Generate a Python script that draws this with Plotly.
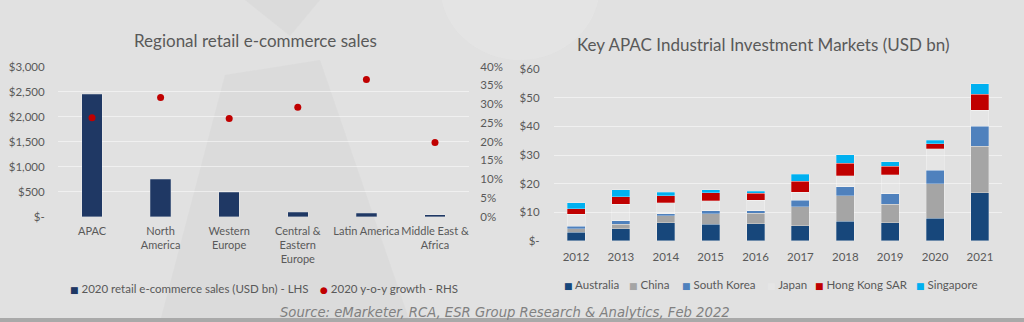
import plotly.graph_objects as go

# ---------------- data ----------------
regions = ["APAC", "North<br>America", "Western<br>Europe", "Central &<br>Eastern<br>Europe",
           "Latin America", "Middle East &<br>Africa"]
sales_2020 = [2450, 750, 490, 90, 70, 35]
growth_2020 = [0.264, 0.318, 0.262, 0.292, 0.366, 0.198]
left_yticks = [0, 500, 1000, 1500, 2000, 2500, 3000]
left_yticklabels = ["$-", "$500", "$1,000", "$1,500", "$2,000", "$2,500", "$3,000"]
right_yticks = [0, 0.05, 0.10, 0.15, 0.20, 0.25, 0.30, 0.35, 0.40]
right_yticklabels = ["0%", "5%", "10%", "15%", "20%", "25%", "30%", "35%", "40%"]

years = ["2012", "2013", "2014", "2015", "2016", "2017", "2018", "2019", "2020", "2021"]
australia = [2.9, 4.2, 6.2, 5.8, 6.0, 5.2, 6.8, 6.3, 7.8, 16.7]
china = [1.3, 1.6, 2.5, 3.6, 3.6, 6.7, 8.9, 6.4, 12.2, 16.3]
south_korea = [0.8, 1.1, 0.7, 1.0, 0.8, 2.3, 3.2, 3.8, 4.7, 7.1]
japan = [4.2, 5.9, 3.8, 3.5, 3.8, 2.8, 3.9, 6.6, 7.5, 5.6]
hong_kong = [2.0, 2.5, 2.5, 2.8, 2.4, 3.9, 4.3, 2.9, 1.7, 5.6]
singapore = [2.0, 2.6, 1.3, 1.2, 0.7, 2.4, 3.0, 1.7, 1.2, 3.7]
inv_yticks = [0, 10, 20, 30, 40, 50, 60]
inv_yticklabels = ["$-", "$10", "$20", "$30", "$40", "$50", "$60"]

series_names = ["Australia", "China", "South Korea", "Japan", "Hong Kong SAR", "Singapore"]
series_values = [australia, china, south_korea, japan, hong_kong, singapore]
series_colors = ["#17477b", "#a5a5a5", "#4f81bd", "rgba(238,238,238,0.32)", "#c00000", "#00b0f0"]

# ---------------- style ----------------
W, H = 1024, 322
FONT = "Lato"
TXT = "#595959"
GRID = "rgba(255,255,255,0.5)"

def px(x):
    return x / W

def py(y):
    return 1 - y / H

fig = go.Figure()

# left chart
fig.add_trace(go.Bar(x=regions, y=sales_2020, width=0.3,
                     marker=dict(color="#1f3864", line=dict(color="rgba(255,255,255,0.35)", width=0.6)),
                     xaxis="x", yaxis="y", showlegend=False,
                     name="2020 retail e-commerce sales (USD bn) - LHS"))
fig.add_trace(go.Scatter(x=regions, y=growth_2020, mode="markers",
                         marker=dict(color="#c00000", size=7),
                         xaxis="x", yaxis="y2", showlegend=False,
                         name="2020 y-o-y growth - RHS"))

# right chart
for name, vals, col in zip(series_names, series_values, series_colors):
    fig.add_trace(go.Bar(x=years, y=vals, name=name, xaxis="x3", yaxis="y3", width=0.4,
                         marker=dict(color=col, line=dict(color="rgba(255,255,255,0.4)", width=0.7)),
                         showlegend=False))

tickfont = dict(family=FONT, size=11.5, color=TXT)
xtickfont = dict(family=FONT, size=11, color=TXT)

fig.update_layout(
    width=W, height=H,
    margin=dict(l=0, r=0, t=0, b=0),
    paper_bgcolor="#e1e1e1",
    plot_bgcolor="rgba(0,0,0,0)",
    barmode="stack",
    template="none",
    xaxis=dict(domain=[px(57.7), px(469.3)], tickfont=xtickfont, showgrid=False, tickangle=0,
               tickmode="array", tickvals=regions,
               showline=False, zeroline=False, ticks="", ticklabelstandoff=6,
               automargin=False),
    yaxis=dict(domain=[py(216.7), py(66.7)], range=[0, 3000], tickvals=left_yticks,
               ticktext=left_yticklabels, tickfont=tickfont, showgrid=True, gridcolor=GRID,
               gridwidth=1, zeroline=False, showline=False, ticks="", ticklabelstandoff=12,
               automargin=False),
    yaxis2=dict(overlaying="y", side="right", anchor="x", range=[0, 0.4], tickvals=right_yticks,
                ticktext=right_yticklabels, tickfont=tickfont, showgrid=False, zeroline=False,
                showline=False, ticks="", ticklabelstandoff=10, automargin=False),
    xaxis3=dict(domain=[px(553.6), px(1002.4)], anchor="y3", tickfont=tickfont, showgrid=False,
                tickangle=0, tickmode="array", tickvals=years,
                showline=False, zeroline=False, ticks="", ticklabelstandoff=8, automargin=False),
    yaxis3=dict(domain=[py(240.7), py(69.3)], anchor="x3", range=[0, 60], tickvals=inv_yticks,
                ticktext=inv_yticklabels, tickfont=tickfont, showgrid=True, gridcolor=GRID,
                zeroline=False, showline=False, ticks="", ticklabelstandoff=13, automargin=False),
)

annotations = [
    dict(text="Regional retail e-commerce sales", x=px(255), y=py(40), xref="paper", yref="paper",
         showarrow=False, font=dict(family=FONT, size=17, color=TXT), xanchor="center", yanchor="middle"),
    dict(text="Key APAC Industrial Investment Markets (USD bn)", x=px(763), y=py(44), xref="paper",
         yref="paper", showarrow=False, font=dict(family=FONT, size=17, color=TXT),
         xanchor="center", yanchor="middle"),
    dict(text="<i>Source: eMarketer, RCA, ESR Group Research & Analytics, Feb 2022</i>", x=px(505),
         y=py(312), xref="paper", yref="paper", showarrow=False,
         font=dict(family="DejaVu Sans", size=13.2, color="#808080"), xanchor="center", yanchor="middle"),
]

# legends (left chart)
left_leg = [("■", "#1f3864", "2020 retail e-commerce sales (USD bn) - LHS", 68),
            ("●", "#c00000", "2020 y-o-y growth - RHS", 318)]
for sym, col, label, x in left_leg:
    annotations.append(dict(
        text=f"<span style='color:{col};font-size:9px;font-family:DejaVu Sans'>{sym}</span> {label}",
        x=px(x), y=py(288), xref="paper", yref="paper", showarrow=False, xanchor="left",
        yanchor="middle", font=dict(family=FONT, size=11.5, color=TXT)))

right_leg_x = [562, 627, 680, 765, 813, 914]
for name, col, x in zip(series_names, series_colors, right_leg_x):
    annotations.append(dict(
        text=f"<span style='color:{col};font-size:9px;font-family:DejaVu Sans'>■</span> {name}",
        x=px(x), y=py(284), xref="paper", yref="paper", showarrow=False, xanchor="left",
        yanchor="middle", font=dict(family=FONT, size=11.5, color=TXT)))

fig.update_layout(annotations=annotations)

# subtle background shapes (photo-like backdrop)
shapes = [
    dict(type="path", xref="paper", yref="paper", layer="below",
         path=f"M {px(160)} {py(322)} L {px(225)} {py(75)} L {px(320)} {py(60)} L {px(410)} {py(322)} Z",
         fillcolor="rgba(205,205,205,0.25)", line=dict(width=0)),
    dict(type="path", xref="paper", yref="paper", layer="below",
         path=f"M {px(245)} {py(0)} L {px(290)} {py(36)} L {px(320)} {py(0)} Z",
         fillcolor="rgba(210,210,210,0.35)", line=dict(width=0)),
    dict(type="circle", xref="paper", yref="paper", layer="below",
         x0=px(440), x1=px(600), y0=py(60), y1=py(-90),
         fillcolor="rgba(235,235,235,0.35)", line=dict(width=0)),
    dict(type="rect", xref="paper", yref="paper", layer="below",
         x0=0, x1=1, y0=0, y1=py(318), fillcolor="#a9a9a9", line=dict(width=0)),
]
fig.update_layout(shapes=shapes)

fig.write_html("out.html", config={"displayModeBar": False})
